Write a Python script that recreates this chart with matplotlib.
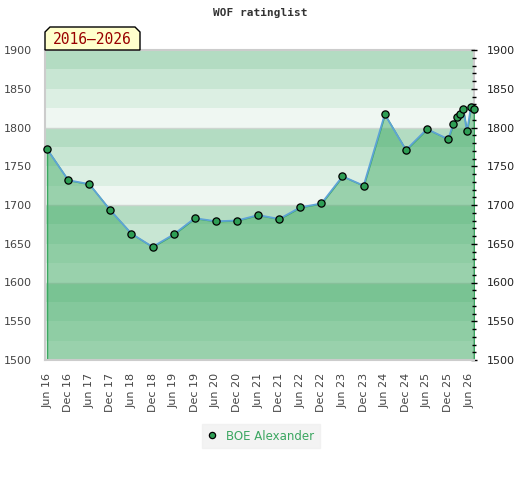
import matplotlib
matplotlib.use("Agg")
import matplotlib.pyplot as plt
import matplotlib.dates as mdates
from matplotlib.patches import Polygon
from matplotlib.ticker import MultipleLocator
import datetime as dt

# ---- data ----
dates = ["2016-06-01", "2016-12-01", "2017-06-01", "2017-12-01", "2018-06-01",
         "2018-12-01", "2019-06-01", "2019-12-01", "2020-06-01", "2020-12-01",
         "2021-06-01", "2021-12-01", "2022-06-01", "2022-12-01", "2023-06-01",
         "2023-12-01", "2024-06-01", "2024-12-01", "2025-06-01", "2025-12-01",
         "2026-01-14", "2026-02-15", "2026-03-12", "2026-04-10", "2026-05-13",
         "2026-06-16", "2026-07-13"]
ratings = [1772, 1732, 1727, 1693, 1663, 1646, 1662, 1683, 1679, 1680,
           1687, 1682, 1697, 1702, 1737, 1725, 1817, 1771, 1798, 1785,
           1804, 1813, 1818, 1824, 1795, 1826, 1824]
player = "BOE Alexander"
title = "WOF ratinglist"
period_label = "2016\u20132026"
y_ticks = [1500, 1550, 1600, 1650, 1700, 1750, 1800, 1850, 1900]
x_tick_dates = ["2016-06-01", "2016-12-01", "2017-06-01", "2017-12-01", "2018-06-01",
                "2018-12-01", "2019-06-01", "2019-12-01", "2020-06-01", "2020-12-01",
                "2021-06-01", "2021-12-01", "2022-06-01", "2022-12-01", "2023-06-01",
                "2023-12-01", "2024-06-01", "2024-12-01", "2025-06-01", "2025-12-01",
                "2026-06-01"]

# ---- figure ----
W, H = 520, 480
fig = plt.figure(figsize=(W / 100, H / 100), dpi=100)
L, R, T, B = 45, 474, 50, 360
ax = fig.add_axes([L / W, 1 - B / H, (R - L) / W, (B - T) / H])

xd = [dt.datetime.strptime(d, "%Y-%m-%d") for d in dates]
xt = [dt.datetime.strptime(d, "%Y-%m-%d") for d in x_tick_dates]

ymin, ymax = 1500, 1900
band_cols = ["#eff7f2", "#dcefe3", "#c8e6d3", "#b3dcc2"]  # bottom->top in each 100
for lo in range(ymin, ymax, 25):
    idx = ((lo - ymin) // 25) % 4
    ax.axhspan(lo, lo + 25, color=band_cols[idx], lw=0, zorder=0)
for g in range(1600, 1900, 100):
    ax.axhline(g, color="#cdd6d0", lw=1, zorder=0.5)

ax.fill_between(xd, ratings, ymin, facecolor=(0.23, 0.66, 0.38, 0.48),
                edgecolor="#3ba861", lw=1, zorder=1)
ax.plot(xd, ratings, color="#5ea3d6", lw=1.3, zorder=2)
ax.plot(xd, ratings, ls="none", marker="o", ms=5.2, mfc="#2e9e55", mec="black",
        mew=0.9, zorder=3, clip_on=False)

ax.set_xlim(xd[0] - dt.timedelta(days=18), xd[-1])
ax.set_ylim(ymin, ymax)

ax.set_xticks(xt)
ax.xaxis.set_major_formatter(mdates.DateFormatter("%b %y"))
ax.tick_params(axis="x", length=0, pad=9, labelsize=8, labelcolor="#444444",
               labelrotation=90)
for lab in ax.get_xticklabels():
    lab.set_verticalalignment("top")

ax.set_yticks(y_ticks)
ax.tick_params(axis="y", which="both", left=False, right=True, labelleft=True,
               labelright=True, labelsize=8, labelcolor="#444444", color="black",
               direction="inout")
ax.tick_params(axis="y", which="major", length=5, width=1, pad=7)
ax.yaxis.set_minor_locator(MultipleLocator(10))
ax.tick_params(axis="y", which="minor", length=3, width=1)
for lab in ax.yaxis.get_ticklabels(which="major"):
    pass
for t in ax.yaxis.get_majorticklabels():
    pass
for tk in ax.yaxis.get_major_ticks():
    tk.label2.set_color("#222222")

for name, s in ax.spines.items():
    s.set_color("#cccccc")
    s.set_linewidth(1.5)
    s.set_zorder(2.5 if name == "bottom" else 0.8)

# title
fig.text(260 / W, 1 - 13 / H, title, ha="center", va="center",
         family="DejaVu Sans Mono", weight="bold", fontsize=8, color="#333333")

# period label box with chamfered top corners
pts = [(45, 50), (45, 32), (50, 27), (135, 27), (140, 32), (140, 50)]
poly = Polygon([(x / W, 1 - y / H) for x, y in pts], closed=True,
               transform=fig.transFigure, facecolor="#ffffcc", edgecolor="black",
               lw=1, zorder=10)
fig.patches.append(poly)
fig.text(92 / W, 1 - 39.5 / H, period_label, ha="center", va="center",
         family="DejaVu Sans Mono", fontsize=10.5, color="#990000", zorder=11)

# legend
h, = ax.plot([], [], ls="none", marker="o", ms=4.5, mfc="#2e9e55", mec="black", mew=0.9)
leg = fig.legend([h], [player], loc="center", bbox_to_anchor=(261 / W, 1 - 436 / H),
                 frameon=True, fontsize=8.5, handlelength=0.8, handletextpad=0.8,
                 borderpad=0.5, fancybox=False)
leg.get_frame().set_facecolor("#f0f0f0")
leg.get_frame().set_edgecolor("#f0f0f0")
for t in leg.get_texts():
    t.set_color("#3aa660")

fig.savefig("out.png", dpi=100)
